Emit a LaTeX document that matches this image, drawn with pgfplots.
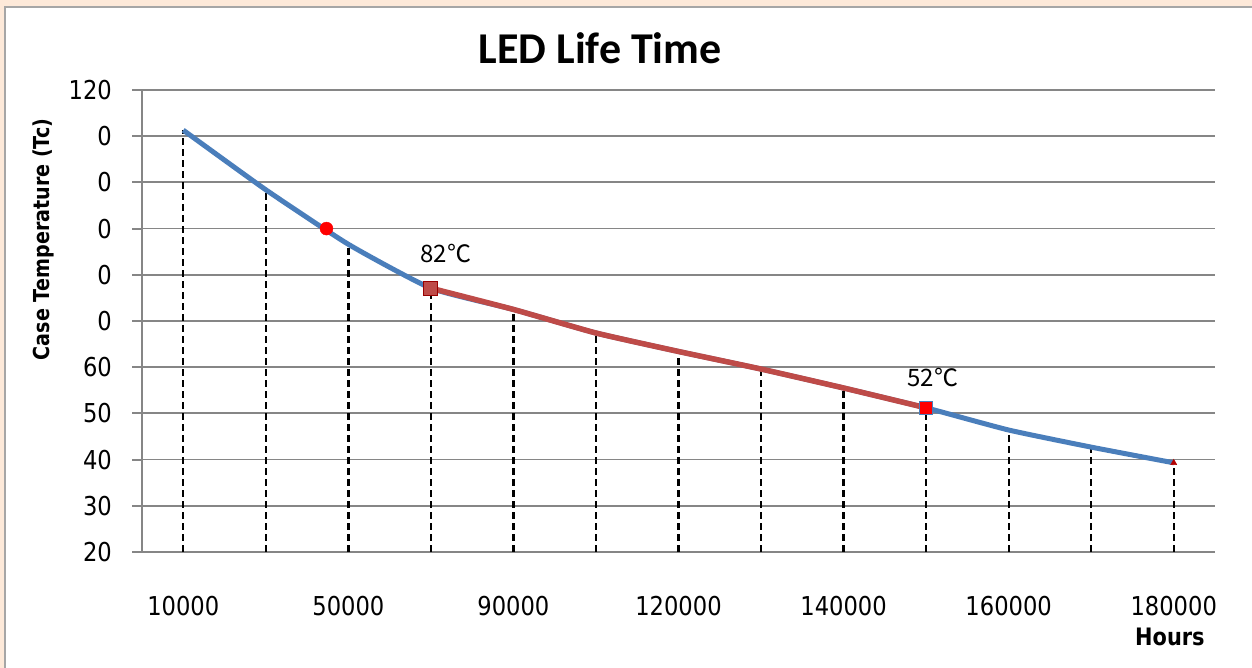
\documentclass[border=0pt]{standalone}
\usepackage{pgfplots}
\pgfplotsset{compat=1.18}
\usepackage{pgfplotstable}
\usepackage{fontspec}
\setmainfont{DejaVu Sans}
\newfontfamily\titlefont{Carlito}
\newfontfamily\tickfont{DejaVu Sans}[FakeStretch=0.87]
\newfontfamily\cjk{Noto Sans CJK SC}
\definecolor{bg}{HTML}{FDE9D9}
\definecolor{gridgray}{HTML}{868686}
\definecolor{xlblue}{HTML}{4A7EBB}
\definecolor{xlred}{HTML}{BE4B48}

\pgfplotstableread{
x y
0 111.3
1 98.4
2 86.6
3 77.1
4 72.5
5 67.4
6 63.4
7 59.6
8 55.5
9 51.2
10 46.4
11 42.7
12 39.3
}\lifedata

\pgfplotstableread{
x y
3 77.1
4 72.5
5 67.4
6 63.4
7 59.6
8 55.5
9 51.2
}\reddata

\begin{document}
\begin{tikzpicture}[x=1bp,y=1bp]
\useasboundingbox (0,0) rectangle (1252,668);
\fill[bg] (0,0) rectangle (1252,668);
\fill[white] (5,0) rectangle (1252,661);
\draw[gray!70, line width=2bp] (5,0) -- (5,661) -- (1252,661);
\begin{axis}[
  at={(142bp,116bp)}, anchor=south west,
  scale only axis, width=1073bp, height=462bp,
  xmin=-0.5, xmax=12.5, ymin=20, ymax=120,
  axis x line*=bottom, axis y line*=left,
  axis line style={gridgray, line width=2bp},
  ytick={20,30,...,120},
  yticklabels={20,30,40,50,60,0,0,0,0,0,120},
  xtick={0,...,12},
  xticklabels={10000,,50000,,90000,,120000,,140000,,160000,,180000},
  tick align=outside,
  major tick length=10bp,
  xtick style={draw=none},
  ytick style={gridgray, line width=2bp},
  ymajorgrids,
  grid style={gridgray, line width=1.8bp},
  tick label style={font=\tickfont\fontsize{26bp}{30bp}\selectfont, text=black},
  yticklabel style={inner sep=0pt, anchor=east, xshift=-20bp},
  xticklabel style={inner sep=0pt, anchor=center, yshift=-44.5bp},
  title={LED Life Time},
  title style={font=\titlefont\bfseries\fontsize{44bp}{50bp}\selectfont, at={(axis description cs:0.427,1)}, anchor=base, yshift=20.7bp},
  ylabel={Case Temperature (Tc)},
  ylabel style={font=\tickfont\bfseries\fontsize{22bp}{26bp}\selectfont, at={(axis description cs:-0.0923,0.677)}, anchor=center},
  xlabel={Hours},
  xlabel style={font=\tickfont\bfseries\fontsize{24bp}{28bp}\selectfont, at={(axis description cs:0.958,-0.184)}, anchor=center},
]
\addplot[black, line width=2.3bp, dash pattern=on 7bp off 4bp, ycomb, no marks] table {\lifedata};
\addplot[xlblue, line width=5bp, smooth, tension=0.3, no marks] table {\lifedata};
\addplot[xlred, line width=5.5bp, smooth, tension=0.3, no marks] table {\reddata};
\addplot[only marks, mark=*, mark size=6.5bp, color=red] coordinates {(1.735,90)};
\addplot[only marks, mark=square*, mark size=7bp, mark options={fill=xlred, draw=red!60!black, line width=1bp}] coordinates {(3,77.1)};
\addplot[only marks, mark=square*, mark size=6.5bp, mark options={fill=red, draw=xlblue, line width=1.5bp}] coordinates {(9,51.2)};
\addplot[only marks, mark=triangle*, mark size=3.5bp, mark options={fill=red!70!black, draw=red!70!black}] coordinates {(12,39.3)};
\node[font=\cjk\fontsize{24bp}{28bp}\selectfont] at (axis cs:3.18,84.7) {82℃};
\node[font=\cjk\fontsize{24bp}{28bp}\selectfont] at (axis cs:9.08,57.7) {52℃};
\end{axis}
\end{tikzpicture}
\end{document}
